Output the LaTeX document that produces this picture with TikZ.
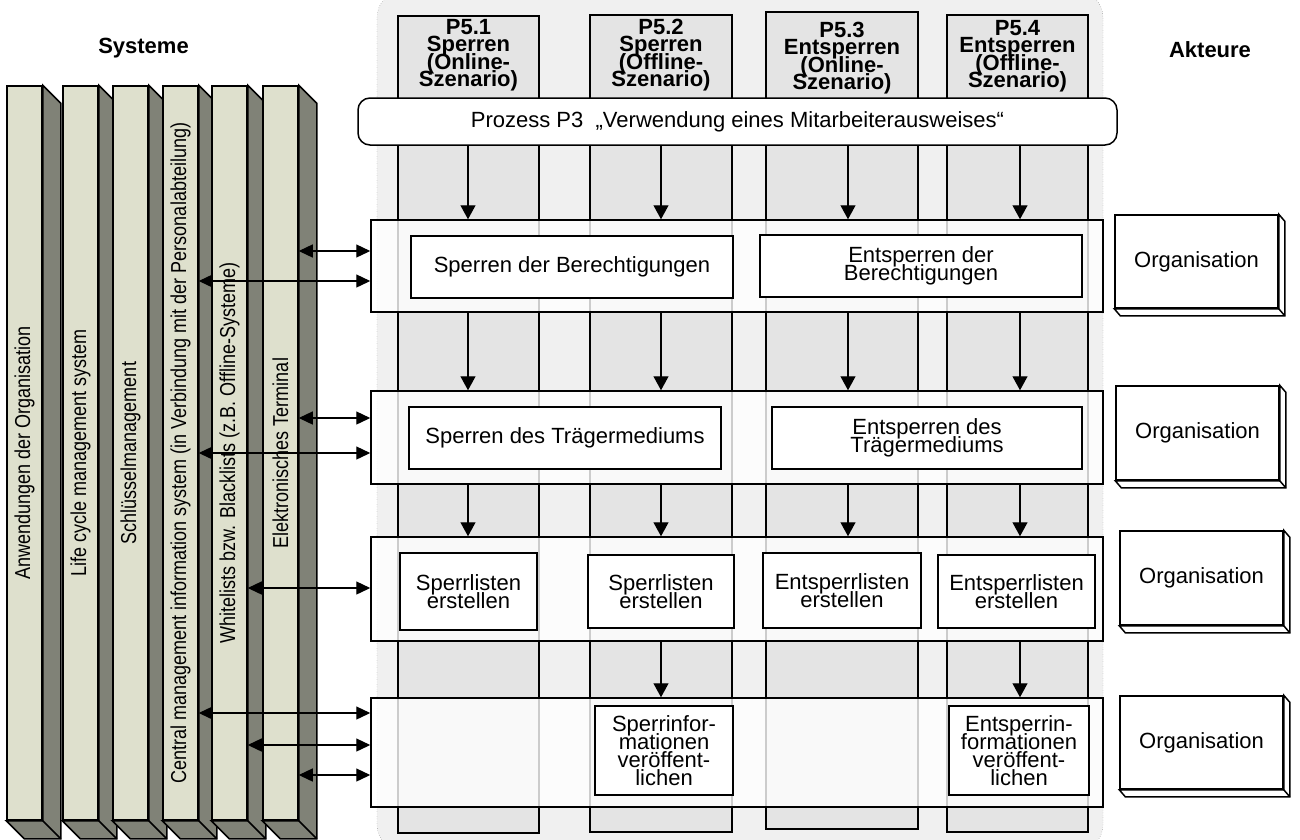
\documentclass[tikz,border=0pt]{standalone}
\usepackage{fontspec}
\setmainfont{Liberation Sans}
\usetikzlibrary{arrows.meta}
\definecolor{regiongray}{RGB}{240,240,240}
\definecolor{lanegray}{RGB}{228,228,228}
\definecolor{barlight}{RGB}{222,224,205}
\definecolor{bardark}{RGB}{128,130,119}
\newcommand{\tightlines}{\lineskiplimit=-100pt\relax}
\tikzstyle{lane}=[draw, fill=lanegray, line width=1.5pt, inner sep=0pt, minimum height=817pt]
\tikzstyle{band}=[draw, fill=white, fill opacity=0.8, line width=1.5pt, inner sep=0pt, minimum width=732pt]
\tikzstyle{task}=[draw, fill=white, line width=1.5pt, inner sep=0pt, align=center,
	font=\fontsize{22}{18}\selectfont\tightlines]
\tikzstyle{actor}=[task, minimum width=163pt]
\tikzstyle{sysbar}=[draw, fill=barlight, line width=1.5pt, inner sep=0pt,
	minimum width=35pt, minimum height=734pt]
\tikzstyle{head}=[align=center, font=\bfseries\fontsize{22}{17.5}\selectfont\tightlines]
\tikzstyle{flow}=[-{Triangle[length=14pt,width=15pt]}, line width=1.3pt]
\tikzstyle{link}=[{Triangle[length=14pt,width=13pt]}-{Triangle[length=14pt,width=13pt]}, line width=1.3pt]

\begin{document}
\begin{tikzpicture}[x=1pt, y=-1pt]
\clip (0,0) rectangle (1300,839);
\draw[dotted, draw=black!60, fill=regiongray, rounded corners=25pt] (377,-8) rectangle (1103,850);

\foreach \n/\x/\w/\y/\hy/\ax/\txt in {
	1/468.5/141/424.5/55/468/{P5.1\\Sperren\\(Online-\\Szenario)},
	2/661/142/423.5/55/661/{P5.2\\Sperren\\(Offline-\\Szenario)},
	3/842/152/420.5/58/848/{P5.3\\Entsperren\\(Online-\\Szenario)},
	4/1017.5/141/423.5/56/1020/{P5.4\\Entsperren\\(Offline-\\Szenario)}}
{
	\node[lane, minimum width=\w pt] (lane\n) at (\x,\y) {};
	\node[head] (head\n) at (\x,\hy) {\txt};
	\coordinate (axis\n) at (\ax,0);
}

\node[draw, fill=white, rounded corners=12pt, line width=1.5pt, inner sep=0pt,
	minimum width=759pt, minimum height=47pt, font=\fontsize{22}{18}\selectfont]
	(banner) at (737.5,121.5) {Prozess P3~~„Verwendung eines Mitarbeiterausweises“};

\node[band, minimum height=92pt] (band1) at (737,266) {};
\node[band, minimum height=93pt] (band2) at (737,437.5) {};
\node[band, minimum height=104pt] (band3) at (737,589) {};
\node[band, minimum height=109pt] (band4) at (737,752.5) {};

\node[task, minimum width=322pt, minimum height=62pt] (lockrights) at (572,267) {Sperren der Berechtigungen};
\node[task, minimum width=322pt, minimum height=62pt] (unlockrights) at (921,266) {Entsperren der\\Berechtigungen};
\node[task, minimum width=312pt, minimum height=62pt] (lockmedium) at (565,438) {Sperren des Trägermediums};
\node[task, minimum width=310pt, minimum height=62pt] (unlockmedium) at (927,438) {Entsperren des\\Trägermediums};
\node[task, minimum width=137pt, minimum height=77pt] (lockliston) at (468.5,591.5) {Sperrlisten\\erstellen};
\node[task, minimum width=146pt, minimum height=73pt] (locklistoff) at (661,591.5) {Sperrlisten\\erstellen};
\node[task, minimum width=158pt, minimum height=75pt] (unlockliston) at (842,590.5) {Entsperrlisten\\erstellen};
\node[task, minimum width=157pt, minimum height=73pt] (unlocklistoff) at (1016.5,591.5) {Entsperrlisten\\erstellen};
\node[task, minimum width=138pt, minimum height=89pt] (lockinfo) at (664,750.5) {Sperrinfor-\\mationen\\veröffent-\\lichen};
\node[task, minimum width=140pt, minimum height=89pt] (unlockinfo) at (1019,750.5) {Entsperrin-\\formationen\\veröffent-\\lichen};

\foreach \l in {1,...,4}
{
	\draw[flow] (axis\l |- banner.south) -- (axis\l |- band1.north);
	\draw[flow] (axis\l |- band1.south) -- (axis\l |- band2.north);
	\draw[flow] (axis\l |- band2.south) -- (axis\l |- band3.north);
}
\foreach \l in {2,4}
	\draw[flow] (axis\l |- band3.south) -- (axis\l |- band4.north);

\foreach \n/\x/\txt in {
	1/24.5/{Anwendungen der Organisation},
	2/80.5/{Life cycle management system},
	3/130.5/{Schlüsselmanagement},
	4/180.5/{Central management information system (in Verbindung mit der Personalabteilung)},
	5/229.5/{Whitelists bzw. Blacklists (z.B. Offline-Systeme)},
	6/280.5/{Elektronisches Terminal}}
{
	\node[sysbar] (sys\n) at (\x,453) {};
	\filldraw[fill=bardark, line width=1.5pt] (sys\n.north east) -- ++(18,18)
		-- ([shift={(18,18)}]sys\n.south east) -- ([shift={(18,18)}]sys\n.south west)
		-- (sys\n.south west) -- (sys\n.south east) -- cycle;
	\draw[line width=1.5pt] (sys\n.south east) -- ++(18,18);
	\node[rotate=90, yscale=1.2, font=\fontsize{18}{18}\selectfont] (sysname\n) at (sys\n) {\txt};
}

\foreach \s/\b/\y in {6/1/251, 4/1/281, 6/2/418, 4/2/453, 5/3/588, 4/4/713, 5/4/745, 6/4/775}
	\draw[link] (sys\s.east |- 0,\y) -- (band\b.west |- 0,\y);

\foreach \n/\x/\y/\h in {1/1196.5/261.5/93, 2/1197.5/433/94, 3/1201.5/578/94, 4/1201.5/742.5/93}
{
	\node[actor, minimum height=\h pt] (org\n) at (\x,\y) {Organisation};
	\filldraw[fill=white, line width=1.5pt] (org\n.north east) -- ++(6,7)
		-- ([shift={(6,7)}]org\n.south east) -- ([shift={(6,7)}]org\n.south west)
		-- (org\n.south west) -- (org\n.south east) -- cycle;
	\draw[line width=1.5pt] (org\n.south east) -- ++(6,7);
}

\node[font=\bfseries\fontsize{22}{22}\selectfont] (systeme) at (143.5,48) {Systeme};
\node[font=\bfseries\fontsize{22}{22}\selectfont] (akteure) at (1210,50) {Akteure};
\end{tikzpicture}
\end{document}
